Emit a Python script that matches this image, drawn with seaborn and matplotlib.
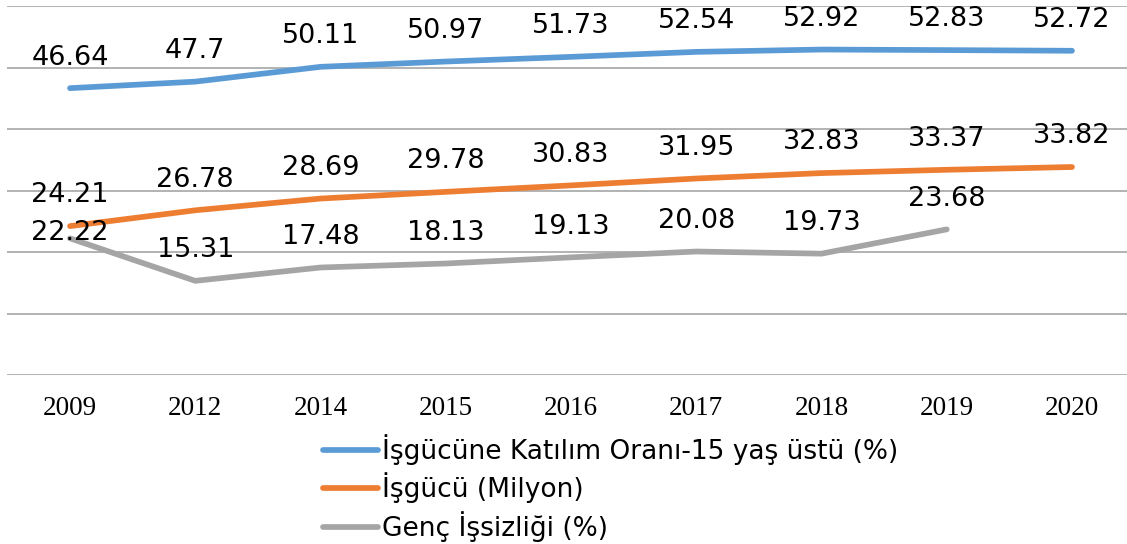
import numpy as np
import pandas as pd
import matplotlib
matplotlib.use("Agg")
import matplotlib.pyplot as plt
import seaborn as sns

years = ['2009', '2012', '2014', '2015', '2016', '2017', '2018', '2019', '2020']
katilim = [46.64, 47.7, 50.11, 50.97, 51.73, 52.54, 52.92, 52.83, 52.72]
isgucu = [24.21, 26.78, 28.69, 29.78, 30.83, 31.95, 32.83, 33.37, 33.82]
genc = [22.22, 15.31, 17.48, 18.13, 19.13, 20.08, 19.73, 23.68, np.nan]

series_names = ['İşgücüne Katılım Oranı-15 yaş üstü (%)', 'İşgücü (Milyon)', 'Genç İşsizliği (%)']
colors = ['#5B9BD5', '#ED7D31', '#A5A5A5']

df = pd.DataFrame({
    'pos': list(range(len(years))) * 3,
    'value': katilim + isgucu + genc,
    'series': [series_names[0]] * 9 + [series_names[1]] * 9 + [series_names[2]] * 9,
})

sns.set_theme(style='white')
plt.rcParams['font.family'] = ['DejaVu Sans']
plt.rcParams['text.color'] = 'black'

fig = plt.figure(figsize=(11.27, 5.44), dpi=100)
ax = fig.add_axes([7.4 / 1127, (544 - 375) / 544, 1127.2 / 1127, 369 / 544])

sns.lineplot(data=df, x='pos', y='value', hue='series', palette=colors,
             hue_order=series_names, linewidth=4.1, sort=False, ax=ax,
             solid_capstyle='round', legend=True)

ax.set_xlim(-0.5, 8.5)
ax.set_ylim(0, 60)
ax.set_yticks(range(0, 61, 10))
ax.set_yticklabels([])
ax.set_xticks(range(len(years)))
ax.set_xticklabels(years, family='Liberation Serif', fontsize=19.5, color='black')
ax.tick_params(axis='x', length=0, pad=15)
ax.tick_params(axis='y', length=0)
ax.grid(axis='y', color='#A6A6A6', linewidth=1.2)
ax.set_axisbelow(True)
for s in ax.spines.values():
    s.set_visible(False)
ax.set_xlabel('')
ax.set_ylabel('')

# data labels
for vals in [katilim, isgucu, genc]:
    for i, v in enumerate(vals):
        if np.isnan(v):
            continue
        dy = 17
        if vals is genc and i == 0:
            dy = -1.5
        ax.annotate(f'{v:g}', (i, v), xytext=(0, dy), textcoords='offset points',
                    ha='center', va='baseline', fontsize=19.5, color='black')

handles, labels = ax.get_legend_handles_labels()
ax.get_legend().remove()
leg = fig.legend(handles, labels, loc='upper left', bbox_to_anchor=(323 / 1127, 1 - 434 / 544),
                 frameon=False, fontsize=19, borderpad=0, borderaxespad=0,
                 handlelength=2.08, handletextpad=0.15, labelspacing=0.29)
for t in leg.get_texts():
    t.set_color('black')

fig.savefig('out.png', dpi=100)
